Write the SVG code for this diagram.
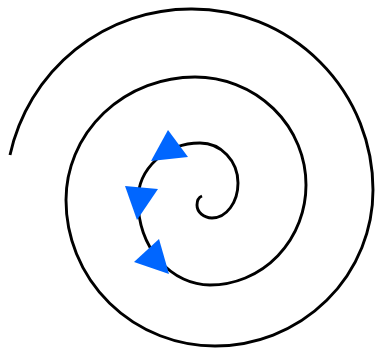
<svg xmlns="http://www.w3.org/2000/svg" width="378" height="353" viewBox="0 0 378 353">
<style>
.spiral{fill:none;stroke:#000;stroke-width:2.9;stroke-linecap:butt;stroke-linejoin:round}
.arrow{fill:#0066ff;stroke:none}
</style>
<rect width="378" height="353" fill="#fff"/>
<g id="connectors">
<path class="spiral" d="M202,196 Q197,198 197,205 A15,13 0 0 0 212,218 A26,35 0 0 0 238,183 A38,40 0 0 0 200,143 A62,57 0 0 0 138,200 A72,85 0 0 0 210,285 A96,100 0 0 0 306,185 A111,108 0 0 0 195,77 A129,123 0 0 0 66,200 A149,146 0 0 0 215,346 A158,156 0 0 0 373,190 A181,181 0 0 0 192,9 A185,186 0 0 0 10,155"/>
</g>
<g id="arrowheads">
<polygon class="arrow" points="168,130 151,161 188,157"/>
<polygon class="arrow" points="125,186 158,189 137,220"/>
<polygon class="arrow" points="159,239 134,262 169,274"/>
</g>
</svg>
